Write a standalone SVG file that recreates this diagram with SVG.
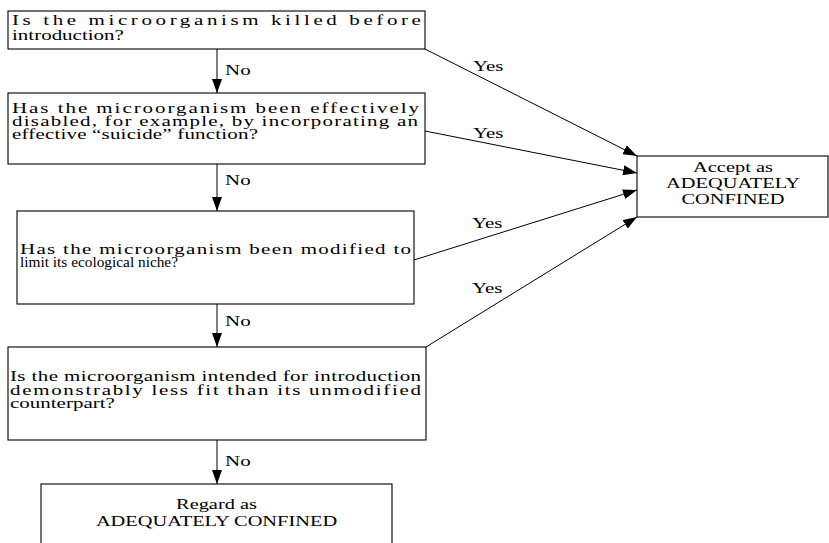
<svg xmlns="http://www.w3.org/2000/svg" width="829" height="543" viewBox="0 0 829 543">
<defs>
<style>
.box{fill:#fff;stroke:#000;stroke-width:1.1}
.t{font-family:"Liberation Serif","Times New Roman",serif;font-size:15px;fill:#000}
.c{text-anchor:middle}
.edge{stroke:#000;stroke-width:1;fill:none}
</style>
<marker id="ah" markerUnits="userSpaceOnUse" markerWidth="14" markerHeight="10" refX="14" refY="5" orient="auto">
<path d="M0,0 L14,5 L0,10 Z" fill="#000"/>
</marker>
</defs>
<rect width="829" height="543" fill="#fff"/>
<g id="edges">
<line class="edge" x1="217" y1="49" x2="217" y2="93" marker-end="url(#ah)"/>
<line class="edge" x1="217" y1="164" x2="217" y2="211" marker-end="url(#ah)"/>
<line class="edge" x1="217" y1="304" x2="217" y2="347" marker-end="url(#ah)"/>
<line class="edge" x1="217" y1="440" x2="217" y2="484" marker-end="url(#ah)"/>
<line class="edge" x1="425" y1="49" x2="637" y2="156" marker-end="url(#ah)"/>
<line class="edge" x1="425" y1="131" x2="637" y2="173" marker-end="url(#ah)"/>
<line class="edge" x1="414" y1="260" x2="637" y2="190" marker-end="url(#ah)"/>
<line class="edge" x1="426" y1="347" x2="637" y2="217" marker-end="url(#ah)"/>
<text class="t" transform="translate(225,75) scale(1.4,1)">No</text>
<text class="t" transform="translate(225,185) scale(1.4,1)">No</text>
<text class="t" transform="translate(225,326) scale(1.4,1)">No</text>
<text class="t" transform="translate(225,466) scale(1.4,1)">No</text>
<text class="t" transform="translate(473,71) scale(1.4,1)">Yes</text>
<text class="t" transform="translate(473,138) scale(1.4,1)">Yes</text>
<text class="t" transform="translate(472,228) scale(1.4,1)">Yes</text>
<text class="t" transform="translate(472,293) scale(1.4,1)">Yes</text>
</g>
<g id="q1">
<rect class="box" x="8" y="11" width="417" height="38"/>
<text class="t" transform="translate(12,25) scale(1.4,1)" textLength="292.1" lengthAdjust="spacing">Is the microorganism killed before</text>
<text class="t" transform="translate(12,40) scale(1.4,1)">introduction?</text>
</g>
<g id="q2">
<rect class="box" x="8" y="93" width="417" height="71"/>
<text class="t" transform="translate(12,113) scale(1.4,1)" textLength="290.7" lengthAdjust="spacing">Has the microorganism been effectively</text>
<text class="t" transform="translate(12,126) scale(1.4,1)" textLength="290" lengthAdjust="spacing">disabled, for example, by incorporating an</text>
<text class="t" transform="translate(12,139) scale(1.4,1)" textLength="175.7" lengthAdjust="spacing">effective “suicide” function?</text>
</g>
<g id="q3">
<rect class="box" x="17" y="211" width="397" height="93"/>
<text class="t" transform="translate(20,253.5) scale(1.4,1)" textLength="279.3" lengthAdjust="spacing">Has the microorganism been modified to</text>
<text class="t" x="20" y="267" textLength="158" lengthAdjust="spacingAndGlyphs">limit its ecological niche?</text>
</g>
<g id="q4">
<rect class="box" x="8" y="347" width="418" height="93"/>
<text class="t" transform="translate(10,381) scale(1.4,1)" textLength="293.6" lengthAdjust="spacing">Is the microorganism intended for introduction</text>
<text class="t" transform="translate(10,394.5) scale(1.4,1)" textLength="293.6" lengthAdjust="spacing">demonstrably less fit than its unmodified</text>
<text class="t" transform="translate(10,408) scale(1.4,1)">counterpart?</text>
</g>
<g id="regard">
<rect class="box" x="41" y="484" width="351" height="80"/>
<text class="t c" transform="translate(216.5,509) scale(1.36,1)">Regard as</text>
<text class="t c" transform="translate(216.5,526) scale(1.36,1)">ADEQUATELY CONFINED</text>
</g>
<g id="accept">
<rect class="box" x="637" y="156" width="191" height="61"/>
<text class="t c" transform="translate(733,172) scale(1.36,1)">Accept as</text>
<text class="t c" transform="translate(733,188) scale(1.36,1)">ADEQUATELY</text>
<text class="t c" transform="translate(733,203.5) scale(1.36,1)">CONFINED</text>
</g>
</svg>
